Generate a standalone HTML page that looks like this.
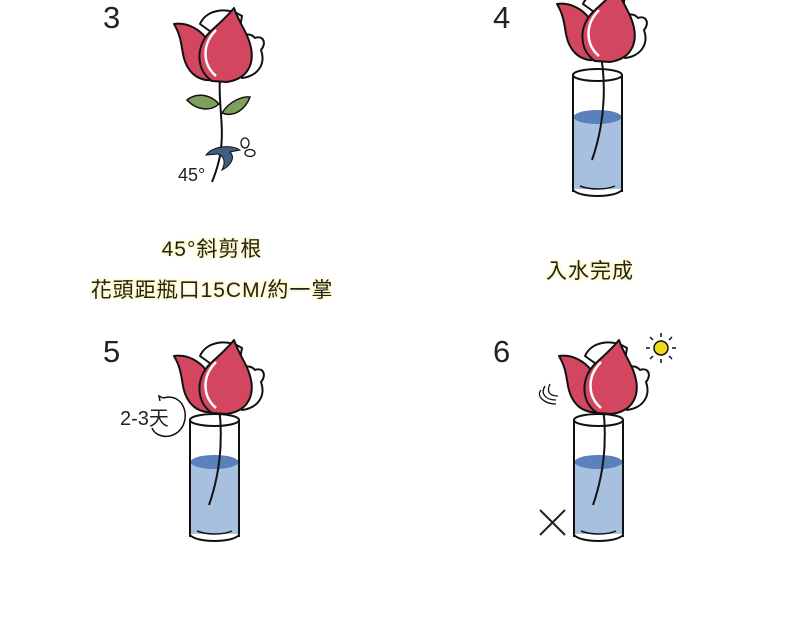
<!DOCTYPE html>
<html><head><meta charset="utf-8"><style>
body{margin:0;width:790px;height:618px;background:#fff;overflow:hidden;position:relative;font-family:"Liberation Sans","Noto Sans CJK TC",sans-serif}
.n{position:absolute;font-size:31px;color:#222;font-weight:300}
.t{position:absolute;font-size:21px;color:#222;text-shadow:0 0 2px #fffab0,0 0 3px #fff3a0,0 0 4px #fff6b0;white-space:nowrap;transform:translateX(-50%);letter-spacing:1px}
svg{position:absolute;left:0;top:0}
</style></head><body>
<div class="n" style="left:103px;top:0px">3</div>
<div class="n" style="left:493px;top:0px">4</div>
<div class="n" style="left:103px;top:334px">5</div>
<div class="n" style="left:493px;top:334px">6</div>
<div class="t" style="left:212px;top:233px">45°斜剪根</div>
<div class="t" style="left:212px;top:274px">花頭距瓶口15CM/約一掌</div>
<div class="t" style="left:590px;top:255px">入水完成</div>
<svg width="790" height="618" viewBox="0 0 790 618">
<defs>
<g id="rose" stroke="#111" stroke-width="2" stroke-linejoin="round">
<path d="M28,16 C34,2 54,-2 70,8 L64,42 Z" fill="#fff"/>
<path d="M62,32 C70,26 78,24 83,30 C91,27 95,35 89,42 C94,56 86,68 70,70 Z" fill="#fff"/>
<path d="M2,16 C16,14 28,22 34,30 L42,72 C24,74 14,62 11,46 C9,34 8,26 2,16 Z" fill="#d2475f"/>
<path d="M40,73 C24,62 24,40 36,26 C44,18 54,10 62,0 C66,12 72,20 76,30 C84,50 80,70 55,74 Z" fill="#d2475f"/>
<path d="M44,68 C30,56 30,36 44,22" fill="none" stroke="#fff" stroke-width="2.5"/>
</g>
</defs>
<!-- step 3 -->
<path d="M220,78 C218,100 224,125 221,148 C220,160 216,172 212,182" fill="none" stroke="#111" stroke-width="2"/>
<path d="M219,104 C208,92 194,94 187,100 C196,110 210,112 219,104 Z" fill="#7da05c" stroke="#111" stroke-width="1.5"/>
<path d="M222,113 C230,100 244,96 250,97 C246,108 235,118 222,113 Z" fill="#7da05c" stroke="#111" stroke-width="1.5"/>
<path d="M206,155 C214,145 232,145 240,150 L230,152 C236,158 230,166 222,170 C226,162 224,156 218,154 Z" fill="#3f5f7e" stroke="#111" stroke-width="1"/>
<ellipse cx="245" cy="143" rx="4" ry="5" fill="none" stroke="#111" stroke-width="1.3"/>
<ellipse cx="250" cy="153" rx="5" ry="3.5" fill="none" stroke="#111" stroke-width="1.3"/>
<text x="178" y="181" font-size="18" fill="#222" font-family="Liberation Sans,sans-serif">45°</text>
<use href="#rose" transform="translate(172,8)"/>
<!-- glasses -->
<g id="g4">
<rect x="573" y="115" width="49" height="74" fill="#a8c0e0"/>
<ellipse cx="597.5" cy="117" rx="24" ry="7" fill="#5a80bd"/>
<path d="M573,75 L573,192 M622,75 L622,192" stroke="#111" stroke-width="2"/>
<ellipse cx="597.5" cy="75" rx="24.5" ry="6" fill="none" stroke="#111" stroke-width="2"/>
<path d="M573,190 C580,198 615,198 622,190" fill="none" stroke="#111" stroke-width="2"/>
<path d="M580,186 C590,190 606,190 615,186" fill="none" stroke="#111" stroke-width="1.5"/>
<path d="M600,50 C606,80 606,120 592,160" fill="none" stroke="#111" stroke-width="2"/>
</g>
<use href="#rose" transform="translate(555,-12)"/>
<use href="#g4" transform="translate(-383,345)"/>
<use href="#rose" transform="translate(172,340)"/>
<use href="#g4" transform="translate(1,345)"/>
<use href="#rose" transform="translate(557,340)"/>
<!-- step 5 clock -->
<path d="M163,398 C185,392 192,420 178,432 C168,440 155,436 152,428" fill="none" stroke="#111" stroke-width="1.5"/>
<path d="M163,398 L159,396 L160,401" fill="none" stroke="#111" stroke-width="1.5"/>
<text x="120" y="425" font-size="20" fill="#222" font-family="Liberation Sans,Noto Sans CJK TC,sans-serif">2-3天</text>
<!-- step 6 -->
<path d="M540,510 L565,535 M565,510 L540,535" stroke="#222" stroke-width="2"/>
<circle cx="661" cy="348" r="7" fill="#f2d81a" stroke="#111" stroke-width="1.5"/>
<g stroke="#111" stroke-width="1.5"><path d="M661,333 V337 M661,359 V363 M646,348 H650 M672,348 H676 M650,337 L653,340 M669,356 L672,359 M672,337 L669,340 M653,356 L650,359"/></g>
<path d="M541,390 C536,396 544,404 556,404 M545,386 C540,394 546,400 556,400 M550,384 C546,392 550,396 558,396" fill="none" stroke="#111" stroke-width="1.3"/>
</svg>
</body></html>
